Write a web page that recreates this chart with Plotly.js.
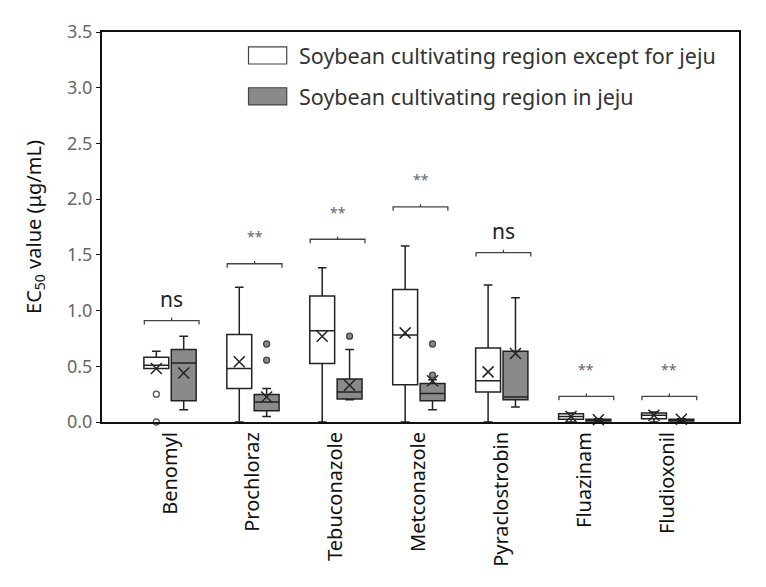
<!DOCTYPE html>
<html><head><meta charset="utf-8">
<script src="https://cdn.plot.ly/plotly-3.0.1.min.js"></script>
<style>body{margin:0;background:#fff}#chart{width:766px;height:587px}</style>
</head><body><div id="chart"></div>
<script>
// ---- data ----
const categories = ['Benomyl','Prochloraz','Tebuconazole','Metconazole','Pyraclostrobin','Fluazinam','Fludioxonil'];
const seriesNames = ['Soybean cultivating region except for jeju','Soybean cultivating region in jeju'];

// Soybean cultivating region except for jeju
const outLower  = [0.48, 0.00, 0.00, 0.00, 0.00, 0.00, 0.00];
const outQ1     = [0.48, 0.30, 0.525,0.335,0.27, 0.025,0.03];
const outMedian = [0.51, 0.48, 0.82, 0.78, 0.37, 0.05, 0.06];
const outQ3     = [0.58, 0.785,1.13, 1.19, 0.665,0.075,0.08];
const outUpper  = [0.635,1.21, 1.385,1.58, 1.23, 0.08, 0.09];
const outMean   = [0.48, 0.54, 0.77, 0.80, 0.45, 0.05, 0.06];
const outOutlierCat = ['Benomyl','Benomyl'];
const outOutlierVal = [0.25, 0.00];

// Soybean cultivating region in jeju
const jejuLower  = [0.11, 0.05, 0.20, 0.11, 0.135,0.005,0.005];
const jejuQ1     = [0.19, 0.10, 0.207,0.19, 0.20, 0.01, 0.01];
const jejuMedian = [0.53, 0.18, 0.27, 0.255,0.225,0.015,0.015];
const jejuQ3     = [0.65, 0.246,0.386,0.345,0.635,0.025,0.025];
const jejuUpper  = [0.77, 0.30, 0.65, 0.38, 1.115,0.03, 0.03];
const jejuMean   = [0.44, 0.225,0.33, 0.37, 0.615,0.02, 0.025];
const jejuOutlierCat = ['Prochloraz','Prochloraz','Tebuconazole','Metconazole','Metconazole'];
const jejuOutlierVal = [0.70, 0.555, 0.77, 0.42, 0.70];

// significance
const sigY     = [0.91, 1.42, 1.64, 1.93, 1.52, 0.23, 0.23];
const sigLabel = ['ns','**','**','**','ns','**','**'];

// ---- layout helpers ----
const OFF = 0.165, BW = 0.30;
const idx = c => categories.indexOf(c);
const posOut = categories.map((c,i)=>i-OFF);
const posJeju = categories.map((c,i)=>i+OFF);
const lineC = '#222';
const FONT = 'Noto Sans, sans-serif';

const traces = [
  {type:'box', name:seriesNames[0], x:posOut, q1:outQ1, median:outMedian, q3:outQ3,
   lowerfence:outLower, upperfence:outUpper, width:BW, whiskerwidth:0.35,
   fillcolor:'#ffffff', line:{color:lineC,width:1.5}, showlegend:false, hoverinfo:'skip'},
  {type:'box', name:seriesNames[1], x:posJeju, q1:jejuQ1, median:jejuMedian, q3:jejuQ3,
   lowerfence:jejuLower, upperfence:jejuUpper, width:BW, whiskerwidth:0.35,
   fillcolor:'#8a8a8a', line:{color:lineC,width:1.5}, showlegend:false, hoverinfo:'skip'},
  {type:'scatter', mode:'markers', x:posOut, y:outMean, cliponaxis:false, showlegend:false,
   marker:{symbol:'x-thin-open', size:11, color:lineC, line:{color:lineC,width:1.5}}},
  {type:'scatter', mode:'markers', x:posJeju, y:jejuMean, cliponaxis:false, showlegend:false,
   marker:{symbol:'x-thin-open', size:11, color:lineC, line:{color:lineC,width:1.5}}},
  {type:'scatter', mode:'markers', x:outOutlierCat.map(c=>idx(c)-OFF), y:outOutlierVal, cliponaxis:false, showlegend:false,
   marker:{symbol:'circle', size:6, color:'#ffffff', line:{color:'#555',width:1.3}}},
  {type:'scatter', mode:'markers', x:jejuOutlierCat.map(c=>idx(c)+OFF), y:jejuOutlierVal, cliponaxis:false, showlegend:false,
   marker:{symbol:'circle', size:6, color:'#8a8a8a', line:{color:'#444',width:1.3}}}
];

const shapes = [];
const annotations = [];
const H = 0.035;
categories.forEach((c,i)=>{
  const x0 = i-0.31, x1 = i+0.35, xc = (x0+x1)/2, y = sigY[i];
  shapes.push({type:'path', xref:'x', yref:'y', line:{color:'#444',width:1.3},
    path:`M${x0},${y-H} L${x0},${y} L${x1},${y} L${x1},${y-H} M${xc},${y} L${xc},${y+0.025}`});
  const ns = sigLabel[i]==='ns';
  annotations.push({xref:'x', yref:'y', x:xc, y:y, yshift: ns?22:27, showarrow:false,
    text:sigLabel[i], font:{family:FONT, size: ns?21:14, color: ns?'#222':'#666'}});
});

// legend drawn in paper coordinates
const legRows = [{y0:0.918,y1:0.962,fill:'#ffffff'},{y0:0.813,y1:0.857,fill:'#8a8a8a'}];
legRows.forEach((r,k)=>{
  shapes.push({type:'rect', xref:'paper', yref:'paper', x0:0.230, x1:0.290, y0:r.y0, y1:r.y1,
    fillcolor:r.fill, line:{color:'#444',width:1.2}});
  annotations.push({xref:'paper', yref:'paper', x:0.306, y:(r.y0+r.y1)/2, xanchor:'left', yanchor:'middle',
    showarrow:false, text:seriesNames[k], font:{family:FONT, size:21.5, color:'#333'}});
});

const layout = {
  width:766, height:587,
  margin:{l:102, r:27, t:32, b:165},
  paper_bgcolor:'#fff', plot_bgcolor:'#fff',
  showlegend:false,
  xaxis:{range:[-0.82,6.86], tickvals:categories.map((c,i)=>i), ticktext:categories, tickangle:-90,
    showgrid:false, zeroline:false, showline:true, mirror:true, linecolor:'#111', linewidth:2, ticks:'',
    tickfont:{family:FONT, size:20, color:'#111'}},
  yaxis:{range:[0,3.5], dtick:0.5, tickformat:'.1f', showgrid:false, zeroline:false, showline:true, mirror:true,
    linecolor:'#111', linewidth:2, ticks:'outside', ticklen:4, tickcolor:'#111',
    tickfont:{family:FONT, size:18, color:'#666'},
    title:{text:'EC<sub>50</sub> value (μg/mL)', standoff:20, font:{family:FONT, size:20, color:'#111'}}},
  shapes:shapes, annotations:annotations
};
Plotly.newPlot('chart', traces, layout, {displayModeBar:false, staticPlot:true});
</script></body></html>
